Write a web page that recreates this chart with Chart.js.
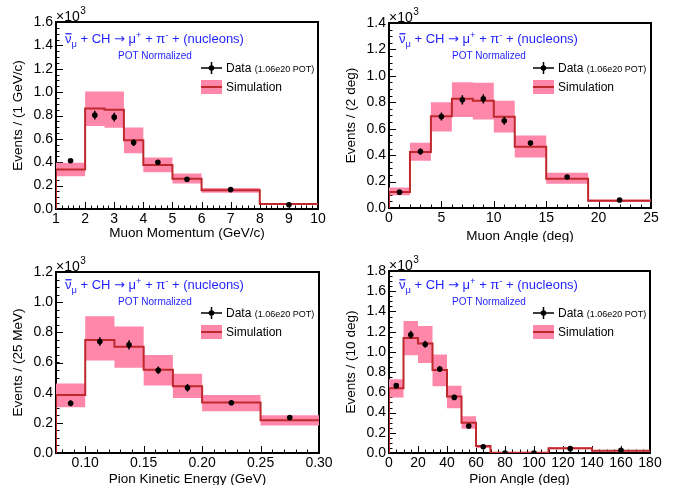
<!DOCTYPE html>
<html>
<head>
<meta charset="utf-8">
<script src="https://cdn.jsdelivr.net/npm/chart.js@4.4.1/dist/chart.umd.min.js"></script>
<style>
  body { margin: 0; background: #fff; width: 673px; height: 485px; overflow: hidden; position: relative; }
  canvas { position: absolute; }
</style>
</head>
<body>
<canvas id="p1" width="336" height="242" style="left:0;top:0"></canvas>
<canvas id="p2" width="337" height="242" style="left:336px;top:0"></canvas>
<canvas id="p3" width="336" height="243" style="left:0;top:242px"></canvas>
<canvas id="p4" width="337" height="243" style="left:336px;top:242px"></canvas>
<script>
// muon momentum (x10^3 events / 1 GeV/c)
const momEdges = [1, 2, 2.667, 3.333, 4, 5, 6, 8, 10];
const momSim = [0.338, 0.86, 0.85, 0.588, 0.376, 0.258, 0.16, 0.043];
const momSimLow = [0.28, 0.71, 0.695, 0.476, 0.315, 0.218, 0.138, 0.036];
const momSimHigh = [0.395, 1.005, 1.005, 0.697, 0.44, 0.304, 0.18, 0.05];
const momDataX = [1.5, 2.333, 3.0, 3.667, 4.5, 5.5, 7, 9];
const momData = [0.413, 0.803, 0.786, 0.568, 0.399, 0.255, 0.166, 0.037];
const momErr = [0.015, 0.038, 0.038, 0.03, 0.02, 0.015, 0.01, 0.005];
const momXTicks = [1, 2, 3, 4, 5, 6, 7, 8, 9, 10];
const momYTicks = [0, 0.2, 0.4, 0.6, 0.8, 1.0, 1.2, 1.4, 1.6];

// muon angle (x10^3 events / 2 deg)
const angEdges = [0, 2, 4, 6, 8, 10, 12, 15, 19, 25];
const angSim = [0.121, 0.423, 0.695, 0.826, 0.811, 0.69, 0.463, 0.222, 0.055];
const angSimLow = [0.096, 0.358, 0.579, 0.688, 0.67, 0.572, 0.383, 0.184, 0.045];
const angSimHigh = [0.156, 0.494, 0.80, 0.952, 0.947, 0.811, 0.549, 0.267, 0.065];
const angDataX = [1, 3, 5, 7, 9, 11, 13.5, 17, 22];
const angData = [0.12, 0.428, 0.693, 0.819, 0.826, 0.66, 0.491, 0.234, 0.06];
const angErr = [0.01, 0.025, 0.03, 0.035, 0.035, 0.03, 0.02, 0.012, 0.006];
const angXTicks = [0, 5, 10, 15, 20, 25];
const angYTicks = [0, 0.2, 0.4, 0.6, 0.8, 1.0, 1.2, 1.4];

// pion kinetic energy (x10^3 events / 25 MeV)
const keEdges = [0.075, 0.1, 0.125, 0.15, 0.175, 0.2, 0.25, 0.3];
const keSim = [0.385, 0.75, 0.704, 0.552, 0.443, 0.335, 0.217];
const keSimLow = [0.304, 0.613, 0.565, 0.448, 0.365, 0.276, 0.183];
const keSimHigh = [0.461, 0.907, 0.839, 0.65, 0.526, 0.385, 0.25];
const keDataX = [0.0875, 0.1125, 0.1375, 0.1625, 0.1875, 0.225, 0.275];
const keData = [0.33, 0.739, 0.717, 0.548, 0.433, 0.333, 0.235];
const keErr = [0.02, 0.028, 0.03, 0.025, 0.025, 0.01, 0.01];
const keXTicks = [0.10, 0.15, 0.20, 0.25, 0.30];
const keYTicks = [0, 0.2, 0.4, 0.6, 0.8, 1.0, 1.2];

// pion angle (x10^3 events / 10 deg)
const piEdges = [0, 10, 20, 30, 40, 50, 60, 70, 90, 110, 140, 180];
const piSim = [0.64, 1.138, 1.082, 0.82, 0.56, 0.30, 0.069, 0.003, 0.003, 0.046, 0.023];
const piSimLow = [0.55, 0.967, 0.889, 0.659, 0.443, 0.239, 0.05, 0.0, 0.0, 0.036, 0.016];
const piSimHigh = [0.73, 1.305, 1.256, 0.974, 0.666, 0.364, 0.08, 0.006, 0.006, 0.056, 0.03];
const piDataX = [5, 15, 25, 35, 45, 55, 65, 80, 100, 125, 160];
const piData = [0.666, 1.17, 1.075, 0.83, 0.55, 0.266, 0.062, 0.0, 0.0, 0.043, 0.026];
const piErr = [0.025, 0.038, 0.035, 0.03, 0.025, 0.015, 0.007, 0.0, 0.0, 0.006, 0.004];
const piXTicks = [0, 20, 40, 60, 80, 100, 120, 140, 160, 180];
const piYTicks = [0, 0.2, 0.4, 0.6, 0.8, 1.0, 1.2, 1.4, 1.6, 1.8];

const FONT = '"Liberation Sans", Arial, sans-serif';
const BLUE = '#1f1fff';
const PINK = '#ff88aa';
const SIMRED = '#c0282d';

Chart.defaults.font.family = FONT;
Chart.defaults.color = '#000';

// histogram outline: rises from 0 at the first edge, no drop at the last one
function stepLine(edges, vals) {
  const pts = [{ x: edges[0], y: 0 }];
  vals.forEach((v, i) => pts.push({ x: edges[i], y: v }));
  pts.push({ x: edges[edges.length - 1], y: vals[vals.length - 1] });
  return pts;
}
function stepEdge(edges, vals) {
  const pts = vals.map((v, i) => ({ x: edges[i], y: v }));
  pts.push({ x: edges[edges.length - 1], y: vals[vals.length - 1] });
  return pts;
}
function minorValues(min, max, step) {
  const out = [];
  for (let k = Math.ceil(min / step - 1e-6); k * step <= max + 1e-9; k++) out.push(k * step);
  return out;
}

function drawReaction(ctx, x, y, size) {
  const big = size + 'px ' + FONT;
  const small = (size * 0.72) + 'px ' + FONT;
  let cx = x;
  const put = (t, font, dy) => {
    ctx.font = font;
    ctx.fillText(t, cx, y + dy);
    const w = ctx.measureText(t).width;
    cx += w;
    return w;
  };
  const nuX = cx;
  const nuW = put('\u03bd', big, 0);
  ctx.fillRect(nuX + 0.5, y - size * 0.76, nuW - 0.5, 1.3);
  put('\u03bc', small, size * 0.28);
  put(' + CH ', big, 0);
  put('\u2192', size + 'px "DejaVu Sans"', 0);
  put(' \u03bc', big, 0);
  put('+', small, -size * 0.42);
  put(' + \u03c0', big, 0);
  put('-', small, -size * 0.42);
  put(' + (nucleons)', big, 0);
}

const rootStyle = {
  id: 'rootStyle',
  beforeDatasetsDraw(chart, args, o) {
    const { ctx, chartArea: a, scales: { x, y } } = chart;
    ctx.save();
    ctx.strokeStyle = '#000';
    ctx.lineWidth = 1;
    ctx.beginPath();
    minorValues(x.min, x.max, o.xMinor).forEach(v => {
      const px = Math.round(x.getPixelForValue(v)) + 0.5;
      ctx.moveTo(px, a.bottom); ctx.lineTo(px, a.bottom - 3.5);
    });
    x.ticks.forEach(t => {
      const px = Math.round(x.getPixelForValue(t.value)) + 0.5;
      ctx.moveTo(px, a.bottom); ctx.lineTo(px, a.bottom - 7);
    });
    minorValues(y.min, y.max, o.yMinor).forEach(v => {
      const py = Math.round(y.getPixelForValue(v)) + 0.5;
      ctx.moveTo(a.left, py); ctx.lineTo(a.left + 3.5, py);
    });
    y.ticks.forEach(t => {
      const py = Math.round(y.getPixelForValue(t.value)) + 0.5;
      ctx.moveTo(a.left, py); ctx.lineTo(a.left + 7, py);
    });
    ctx.stroke();
    ctx.lineWidth = 2;
    ctx.strokeRect(a.left, a.top, a.right - a.left, a.bottom - a.top);
    ctx.restore();
  },
  afterDatasetsDraw(chart, args, o) {
    const { ctx, chartArea: a, scales: { x, y } } = chart;
    ctx.save();
    // error bars
    ctx.strokeStyle = '#000';
    ctx.lineWidth = 1.5;
    ctx.beginPath();
    o.dataX.forEach((xv, i) => {
      if (!o.err[i]) return;
      const px = x.getPixelForValue(xv);
      ctx.moveTo(px, y.getPixelForValue(o.data[i] - o.err[i]));
      ctx.lineTo(px, y.getPixelForValue(o.data[i] + o.err[i]));
    });
    ctx.stroke();

    // x10^3 multiplier
    ctx.fillStyle = '#000';
    ctx.textBaseline = 'alphabetic';
    ctx.font = '14px ' + FONT;
    ctx.fillText('\u00d710', a.left, a.top - 1);
    const w10 = ctx.measureText('\u00d710').width;
    ctx.font = '10px ' + FONT;
    ctx.fillText('3', a.left + w10 + 0.5, a.top - 8);

    // reaction label
    ctx.fillStyle = BLUE;
    drawReaction(ctx, o.textX, o.textY, 13);
    ctx.font = '10px ' + FONT;
    ctx.fillText('POT Normalized', o.textX + 53, o.textY + 16);

    // legend
    const lx = o.legX, lw = 21, tx = lx + 25;
    ctx.strokeStyle = '#000';
    ctx.lineWidth = 1.5;
    ctx.beginPath();
    ctx.moveTo(lx, o.legY); ctx.lineTo(lx + lw, o.legY);
    ctx.moveTo(lx + lw / 2, o.legY - 6); ctx.lineTo(lx + lw / 2, o.legY + 6);
    ctx.stroke();
    ctx.fillStyle = '#000';
    ctx.beginPath();
    ctx.arc(lx + lw / 2, o.legY, 2.8, 0, Math.PI * 2);
    ctx.fill();
    ctx.font = '12px ' + FONT;
    ctx.fillText('Data', tx, o.legY + 4.3);
    const wd = ctx.measureText('Data ').width;
    ctx.font = '9px ' + FONT;
    ctx.fillText('(1.06e20 POT)', tx + wd, o.legY + 4);

    const sy = o.legY + 19;
    ctx.fillStyle = PINK;
    ctx.fillRect(lx, sy - 7, lw, 14);
    ctx.strokeStyle = SIMRED;
    ctx.lineWidth = 2;
    ctx.beginPath();
    ctx.moveTo(lx, sy); ctx.lineTo(lx + lw, sy);
    ctx.stroke();
    ctx.fillStyle = '#000';
    ctx.font = '12px ' + FONT;
    ctx.fillText('Simulation', tx, sy + 4.3);
    ctx.restore();
  }
};

function makePanel(id, p) {
  new Chart(document.getElementById(id), {
    type: 'scatter',
    data: {
      datasets: [
        { data: p.dataX.map((v, i) => ({ x: v, y: p.data[i] })), backgroundColor: '#000', borderWidth: 0, pointRadius: 2.8, order: 0 },
        { type: 'line', data: stepLine(p.edges, p.sim), borderColor: SIMRED, borderWidth: 2, pointRadius: 0, stepped: true, fill: false, order: 1 },
        { type: 'line', data: stepEdge(p.edges, p.high), borderWidth: 0, pointRadius: 0, stepped: true, fill: '+1', backgroundColor: PINK, order: 2 },
        { type: 'line', data: stepEdge(p.edges, p.low), borderWidth: 0, pointRadius: 0, stepped: true, fill: false, order: 3 }
      ]
    },
    options: {
      responsive: false,
      animation: false,
      layout: { padding: { left: 0, top: p.padTop, right: p.padRight, bottom: 0 } },
      plugins: {
        legend: { display: false },
        tooltip: { enabled: false },
        rootStyle: {
          xMinor: p.xMinor, yMinor: p.yMinor,
          dataX: p.dataX, data: p.data, err: p.err,
          textX: p.textX, textY: p.textY, legX: p.legX, legY: p.legY
        }
      },
      scales: {
        x: {
          type: 'linear', min: p.xMin, max: p.xMax,
          grid: { display: false, drawTicks: false }, border: { display: false },
          ticks: { padding: 2, autoSkip: false, maxRotation: 0, font: { size: 14 }, callback: v => p.xFmt(v) },
          afterBuildTicks: s => { s.ticks = p.xTicks.map(v => ({ value: v })); },
          afterFit: s => { s.height = p.bottomH; },
          title: { display: true, text: p.xTitle, font: { size: 13.5 }, padding: { top: 0, bottom: p.xTitlePad } }
        },
        y: {
          type: 'linear', min: 0, max: p.yMax,
          grid: { display: false, drawTicks: false }, border: { display: false },
          ticks: { padding: 3, autoSkip: false, font: { size: 14 }, callback: v => v.toFixed(1) },
          afterBuildTicks: s => { s.ticks = p.yTicks.map(v => ({ value: v })); },
          afterFit: s => { s.width = p.leftW; },
          title: { display: true, text: p.yTitle, font: { size: 13.5 }, padding: { top: p.yTitlePad, bottom: 0 } }
        }
      }
    },
    plugins: [rootStyle]
  });
}

makePanel('p1', {
  edges: momEdges, sim: momSim, low: momSimLow, high: momSimHigh,
  dataX: momDataX, data: momData, err: momErr,
  xTicks: momXTicks, yTicks: momYTicks, xMin: 1, xMax: 10, yMax: 1.6,
  xMinor: 0.2, yMinor: 0.05, xFmt: v => String(v),
  xTitle: 'Muon Momentum (GeV/c)', yTitle: 'Events / (1 GeV/c)',
  leftW: 56, padRight: 18, padTop: 22, bottomH: 33, xTitlePad: 1, yTitlePad: 10.5,
  textX: 65, textY: 43, legX: 201, legY: 68
});
makePanel('p2', {
  edges: angEdges, sim: angSim, low: angSimLow, high: angSimHigh,
  dataX: angDataX, data: angData, err: angErr,
  xTicks: angXTicks, yTicks: angYTicks, xMin: 0, xMax: 25, yMax: 1.4,
  xMinor: 1, yMinor: 0.05, xFmt: v => String(v),
  xTitle: 'Muon Angle (deg)', yTitle: 'Events / (2 deg)',
  leftW: 53, padRight: 22, padTop: 23, bottomH: 34, xTitlePad: -2, yTitlePad: 7,
  textX: 63, textY: 43, legX: 197, legY: 68
});
makePanel('p3', {
  edges: keEdges, sim: keSim, low: keSimLow, high: keSimHigh,
  dataX: keDataX, data: keData, err: keErr,
  xTicks: keXTicks, yTicks: keYTicks, xMin: 0.075, xMax: 0.30, yMax: 1.2,
  xMinor: 0.01, yMinor: 0.05, xFmt: v => v.toFixed(2),
  xTitle: 'Pion Kinetic Energy (GeV)', yTitle: 'Events / (25 MeV)',
  leftW: 56, padRight: 17, padTop: 30, bottomH: 32, xTitlePad: -2, yTitlePad: 10.5,
  textX: 65, textY: 47, legX: 201, legY: 71
});
makePanel('p4', {
  edges: piEdges, sim: piSim, low: piSimLow, high: piSimHigh,
  dataX: piDataX, data: piData, err: piErr,
  xTicks: piXTicks, yTicks: piYTicks, xMin: 0, xMax: 180, yMax: 1.8,
  xMinor: 5, yMinor: 0.05, xFmt: v => String(v),
  xTitle: 'Pion Angle (deg)', yTitle: 'Events / (10 deg)',
  leftW: 53, padRight: 23, padTop: 29, bottomH: 32, xTitlePad: -2, yTitlePad: 7,
  textX: 63, textY: 47, legX: 197, legY: 71
});
</script>
</body>
</html>
